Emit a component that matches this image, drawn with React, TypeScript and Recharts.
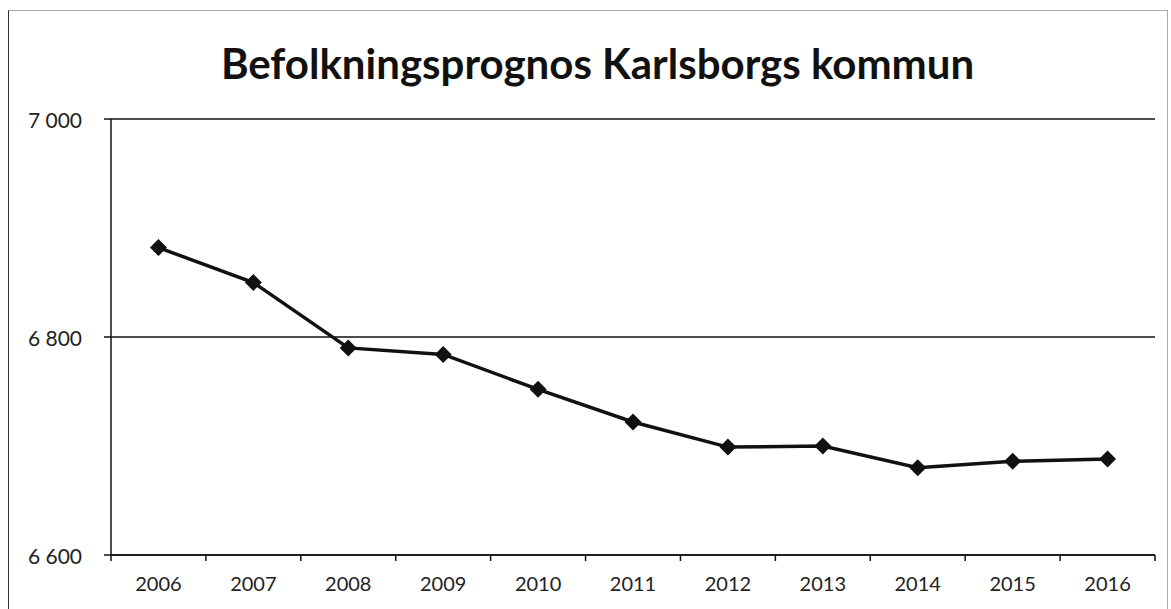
import { LineChart, Line, XAxis, YAxis, CartesianGrid } from "recharts";

const years = ["2006", "2007", "2008", "2009", "2010", "2011", "2012", "2013", "2014", "2015", "2016"];
const population = [6882, 6850, 6790, 6784, 6752, 6722, 6699, 6700, 6680, 6686, 6688];
const yTicks = [6600, 6800, 7000];

const data = years.map((year, i) => ({ year, value: population[i] }));

const WIDTH = 1171;
const HEIGHT = 609;
const MARGIN = { top: 119, right: 16, left: 0, bottom: 24 };
const Y_AXIS_WIDTH = 111;
const FONT = "Lato, 'Open Sans', sans-serif";

const formatTick = (v: number) => {
  const s = String(v);
  return s.length > 3 ? `${s.slice(0, s.length - 3)} ${s.slice(-3)}` : s;
};

// category ticks sit between the years, labels in the middle
const XTick = (props: any) => {
  const { x, y, payload, index } = props;
  const plotW = WIDTH - MARGIN.left - MARGIN.right - Y_AXIS_WIDTH;
  const band = plotW / years.length;
  const axisY = y - 8;
  return (
    <g>
      <line x1={x - band / 2} x2={x - band / 2} y1={axisY} y2={axisY + 6} stroke="#111" strokeWidth={1.5} />
      {index === years.length - 1 && (
        <line x1={x + band / 2} x2={x + band / 2} y1={axisY} y2={axisY + 6} stroke="#111" strokeWidth={1.5} />
      )}
      <text x={x} y={axisY + 28} textAnchor="middle" dominantBaseline="central" fontSize={20} fontFamily={FONT} fill="#222">
        {payload.value}
      </text>
    </g>
  );
};

const YTick = (props: any) => {
  const { x, y, payload } = props;
  return (
    <text x={x} y={y} textAnchor="end" dominantBaseline="central" fontSize={21} fontFamily={FONT} fill="#222">
      {formatTick(payload.value)}
    </text>
  );
};

const Diamond = (props: any) => {
  const { cx, cy } = props;
  if (cx == null || cy == null) return null;
  const r = 8.5;
  return <polygon points={`${cx},${cy - r} ${cx + r},${cy} ${cx},${cy + r} ${cx - r},${cy}`} fill="#111" />;
};

export default function App() {
  return (
    <div style={{ position: "absolute", left: 0, top: 0, width: WIDTH, height: HEIGHT, background: "#fff", overflow: "hidden" }}>
      <div
        style={{
          position: "absolute",
          left: 8,
          top: 10,
          width: 1158,
          height: 620,
          borderLeft: "1.5px solid #333",
          borderTop: "1.5px solid #aaa",
          borderRight: "1.5px solid #aaa",
        }}
      />
      <div
        style={{
          position: "absolute",
          left: 0,
          top: 36,
          width: 1195,
          textAlign: "center",
          fontFamily: FONT,
          fontWeight: 700,
          fontSize: 42,
          lineHeight: "54px",
          color: "#111",
        }}
      >
        Befolkningsprognos Karlsborgs kommun
      </div>
      <LineChart width={WIDTH} height={HEIGHT} data={data} margin={MARGIN} style={{ position: "absolute", left: 0, top: 0 }}>
        <CartesianGrid vertical={false} stroke="#111" strokeWidth={1.3} />
        <XAxis
          dataKey="year"
          scale="band"
          axisLine={{ stroke: "#111", strokeWidth: 1.5 }}
          tickLine={false}
          tick={<XTick />}
          height={30}
          interval={0}
        />
        <YAxis
          domain={[6600, 7000]}
          ticks={yTicks}
          width={Y_AXIS_WIDTH}
          axisLine={{ stroke: "#111", strokeWidth: 1.5 }}
          tickLine={{ stroke: "#111", strokeWidth: 1.5 }}
          tickSize={7}
          tickMargin={22}
          tick={<YTick />}
        />
        <Line
          type="linear"
          dataKey="value"
          stroke="#111"
          strokeWidth={3.5}
          dot={<Diamond />}
          activeDot={false}
          isAnimationActive={false}
        />
      </LineChart>
    </div>
  );
}
